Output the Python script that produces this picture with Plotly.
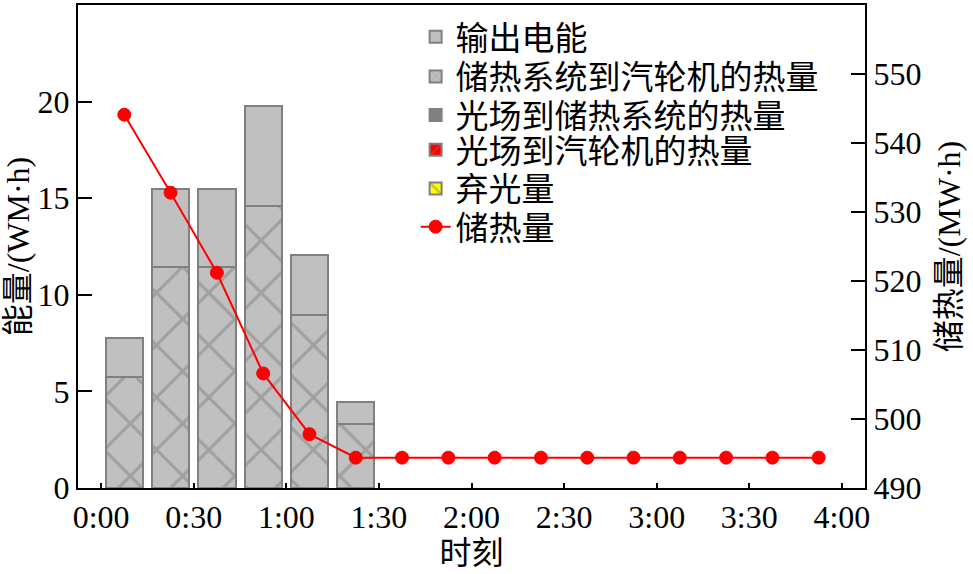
import plotly.graph_objects as go

# time slot centres in minutes after 0:00 (15-min slots)
time_min = [7.5, 22.5, 37.5, 52.5, 67.5, 82.5, 97.5, 112.5,
            127.5, 142.5, 157.5, 172.5, 187.5, 202.5, 217.5, 232.5]

# left axis: energy (WM·h)
output_power = [2.02, 4.01, 4.01, 5.14, 3.13, 1.12, 0, 0, 0, 0, 0, 0, 0, 0, 0, 0]
storage_to_turbine = [5.72, 11.46, 11.46, 14.62, 8.95, 3.33, 0, 0, 0, 0, 0, 0, 0, 0, 0, 0]
field_to_storage = [0, 0, 0, 0, 0, 0, 0, 0, 0, 0, 0, 0, 0, 0, 0, 0]
field_to_turbine = [0, 0, 0, 0, 0, 0, 0, 0, 0, 0, 0, 0, 0, 0, 0, 0]
curtailment = [0, 0, 0, 0, 0, 0, 0, 0, 0, 0, 0, 0, 0, 0, 0, 0]

# right axis: stored heat (MW·h)
stored_heat = [544.1, 532.8, 521.2, 506.6, 497.8, 494.4, 494.4, 494.4,
               494.4, 494.4, 494.4, 494.4, 494.4, 494.4, 494.4, 494.4]

tick_vals = [0, 30, 60, 90, 120, 150, 180, 210, 240]
tick_text = ["0:00", "0:30", "1:00", "1:30", "2:00", "2:30", "3:00", "3:30", "4:00"]

FONT = "Liberation Serif, Noto Sans CJK SC"
BAR_W = 12.1


def nz(vals):
    return [v if v != 0 else None for v in vals]


fig = go.Figure()

fig.add_trace(go.Bar(
    x=time_min, y=nz(storage_to_turbine), width=BAR_W, name="储热系统到汽轮机的热量",
    legend="legend2",
    marker=dict(color="#c0c0c0", line=dict(color="#808080", width=2),
                pattern=dict(shape="x", fgcolor="#808080", bgcolor="#c0c0c0",
                             size=37, solidity=0.16)),
))
fig.add_trace(go.Bar(
    x=time_min, y=nz(output_power), width=BAR_W, name="输出电能",
    legend="legend",
    marker=dict(color="#c0c0c0", line=dict(color="#808080", width=2)),
))
fig.add_trace(go.Bar(
    x=time_min, y=nz(field_to_storage), width=BAR_W, name="光场到储热系统的热量",
    legend="legend3",
    marker=dict(color="#808080", line=dict(color="#808080", width=2)),
))
fig.add_trace(go.Bar(
    x=time_min, y=nz(field_to_turbine), width=BAR_W, name="光场到汽轮机的热量",
    legend="legend4",
    marker=dict(color="#ff0000", line=dict(color="#808080", width=2),
                pattern=dict(shape="/", fgcolor="#808080", bgcolor="#ff0000",
                             size=14, solidity=0.15)),
))
fig.add_trace(go.Bar(
    x=time_min, y=nz(curtailment), width=BAR_W, name="弃光量",
    legend="legend5",
    marker=dict(color="#ffff00", line=dict(color="#808080", width=2),
                pattern=dict(shape="\\", fgcolor="#808080", bgcolor="#ffff00",
                             size=10, solidity=0.3)),
))
fig.add_trace(go.Scatter(
    x=time_min, y=stored_heat, name="储热量", yaxis="y2", legend="legend6",
    mode="lines+markers",
    line=dict(color="#ff0000", width=2),
    marker=dict(symbol="circle", size=13, color="#ff0000",
                line=dict(color="#ff0000", width=1)),
))

LEG_X = 0.429
LEG_ROWS = [0.934, 0.852, 0.772, 0.700, 0.620, 0.541]


def leg(yv):
    return dict(x=LEG_X, y=yv, xanchor="left", yanchor="middle",
                bgcolor="rgba(0,0,0,0)", font=dict(family=FONT, size=33),
                traceorder="normal")


fig.update_layout(
    width=973, height=574,
    margin=dict(l=78, r=108, t=5, b=86, autoexpand=False),
    paper_bgcolor="white", plot_bgcolor="white",
    barmode="stack",
    font=dict(family=FONT, size=32, color="black"),
    showlegend=True,
    legend=leg(LEG_ROWS[0]),
    legend2=leg(LEG_ROWS[1]),
    legend3=leg(LEG_ROWS[2]),
    legend4=leg(LEG_ROWS[3]),
    legend5=leg(LEG_ROWS[4]),
    legend6=leg(LEG_ROWS[5]),
    xaxis=dict(range=[-7.5, 247.5], tickvals=tick_vals, ticktext=tick_text,
               ticks="inside", ticklen=5, tickwidth=2, tickcolor="black",
               showline=True, linecolor="black", linewidth=2, mirror=True,
               showgrid=False, zeroline=False, automargin=False,
               tickfont=dict(family=FONT, size=32),
               title=dict(text="时刻", font=dict(family=FONT, size=32), standoff=4)),
    yaxis=dict(range=[0, 25], tickvals=[0, 5, 10, 15, 20],
               ticks="inside", ticklen=14, tickwidth=2, tickcolor="black",
               showline=True, linecolor="black", linewidth=2,
               showgrid=False, zeroline=False, automargin=False,
               tickfont=dict(family=FONT, size=32),
               title=dict(text="能量/(WM·h)", font=dict(family=FONT, size=32), standoff=2)),
    yaxis2=dict(range=[490, 560], tickvals=[490, 500, 510, 520, 530, 540, 550],
                overlaying="y", side="right",
                ticks="inside", ticklen=14, tickwidth=2, tickcolor="black",
                showline=True, linecolor="black", linewidth=2,
                showgrid=False, zeroline=False, automargin=False,
                tickfont=dict(family=FONT, size=32),
                title=dict(text="储热量/(MW·h)", font=dict(family=FONT, size=32), standoff=17)),
)

fig.write_html("out.html", config={"displayModeBar": False},
               post_script="document.body.style.margin='0';")
